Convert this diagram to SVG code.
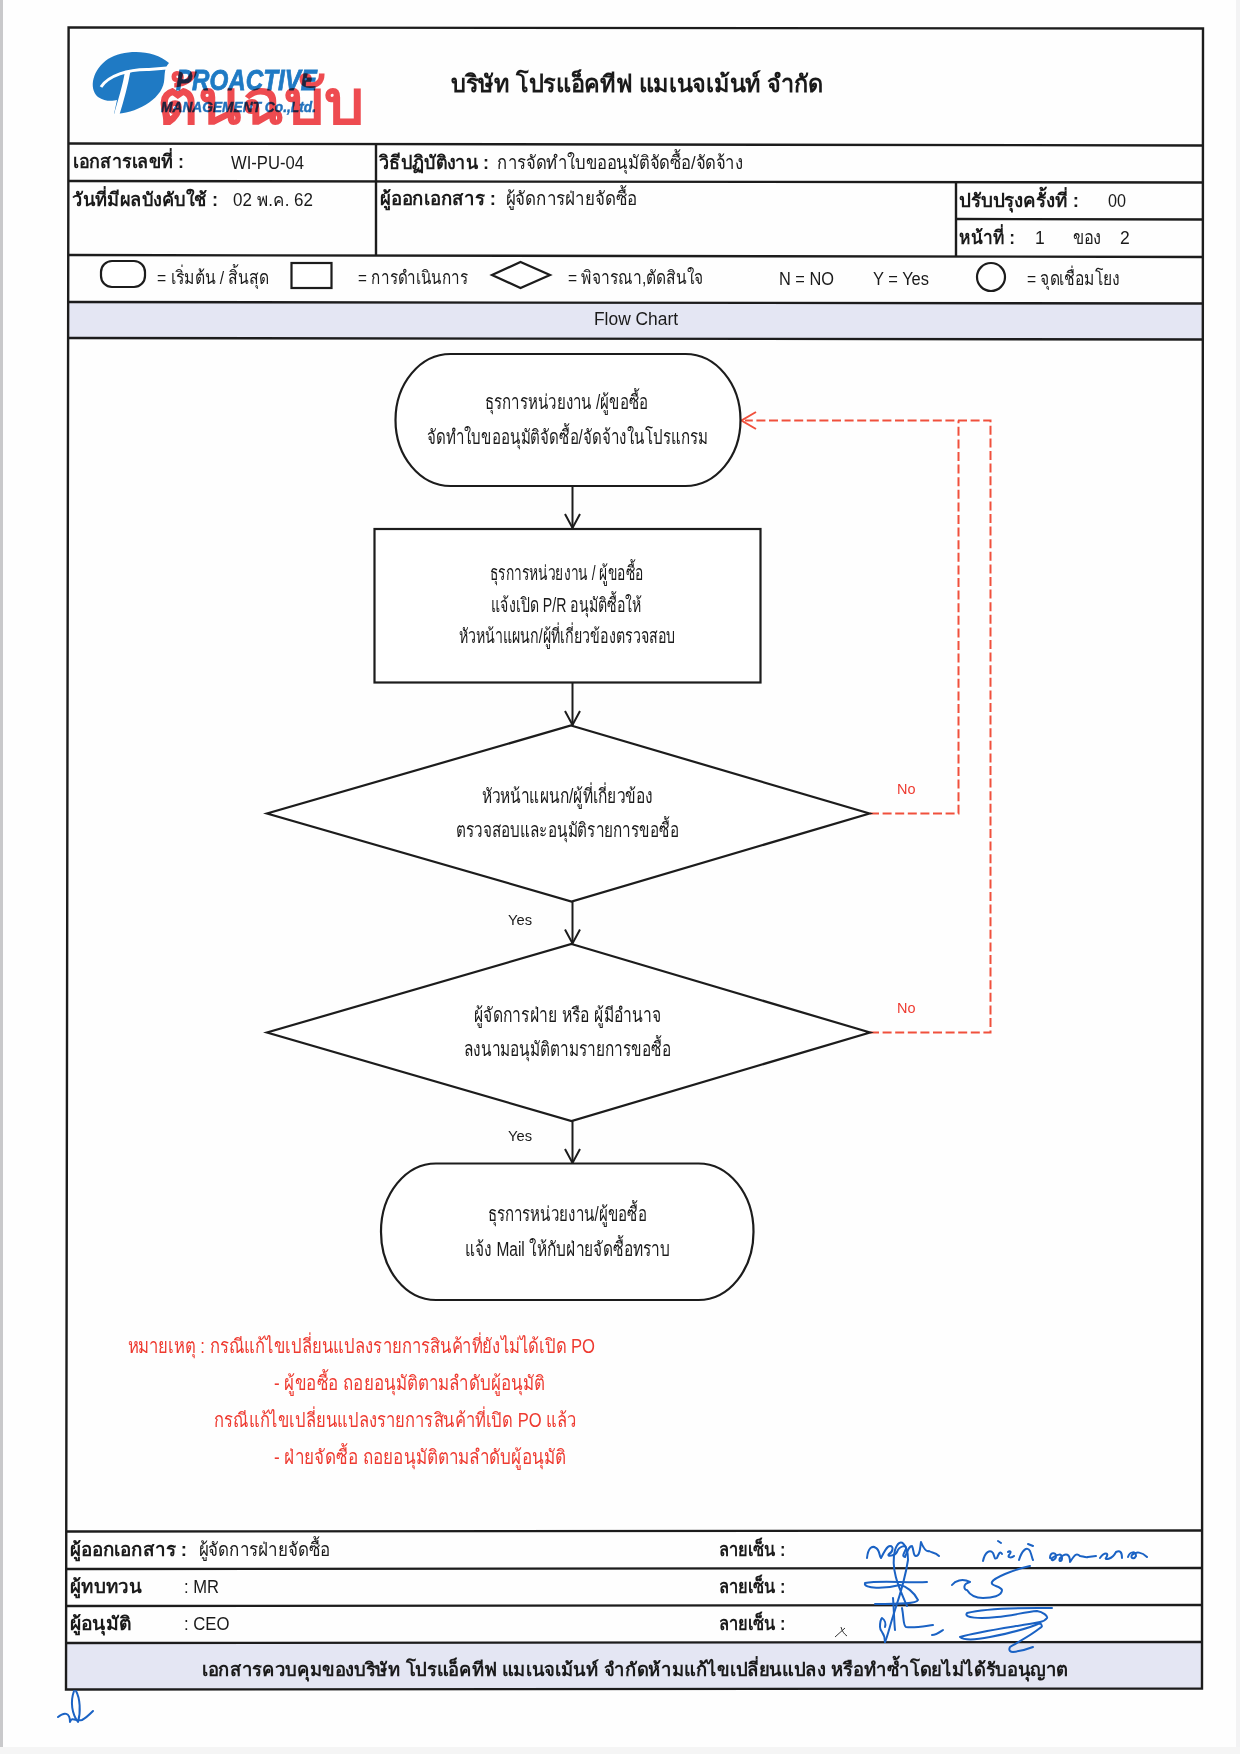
<svg xmlns="http://www.w3.org/2000/svg" width="1240" height="1754" viewBox="0 0 1240 1754">
<style>
text{font-family:"Liberation Sans","Noto Sans",sans-serif;font-size:19px;fill:#1a1a1a}
.b{font-weight:700}
.f{font-size:17.5px}
.r{fill:#ee3a30}
.s14{font-size:14px}
.n{font-size:20px}
.ln{stroke:#1c1c1c;stroke-width:2.4;fill:none}
.sh{stroke:#1c1c1c;stroke-width:2.2;fill:#fff}
.c{stroke:#1c1c1c;stroke-width:2;fill:none;marker-end:url(#ah)}
.d{stroke:#f0503c;stroke-width:2;fill:none;stroke-dasharray:9 3.6}
.sig{stroke:#1a62c4;stroke-width:2;fill:none;stroke-linecap:round;stroke-linejoin:round}
</style>
<defs>
<marker id="ah" markerUnits="userSpaceOnUse" markerWidth="18" markerHeight="18" refX="15" refY="9" orient="auto"><path d="M1,1.5 L15,9 L1,16.5" fill="none" stroke="#1c1c1c" stroke-width="2"/></marker>
</defs>
<rect width="1240" height="1754" fill="#fefefe"/>
<rect x="0" y="0" width="3" height="1754" fill="#c9c9cb"/>
<rect x="1236" y="0" width="4" height="1754" fill="#f3f3f4"/>
<rect x="0" y="1747" width="1240" height="7" fill="#f5f5f5"/>

<g id="form-frame">
<path d="M69,302 L1203,304 L1203,339 L69,338 Z" fill="#e4e6f3"/>
<path d="M66,1643 L1202,1642 L1202,1688 L66,1689 Z" fill="#e4e6f3"/>
<path class="ln" d="M68.6,27.500 L1203,28.500 L1202,1688.500 L66,1689.500 Z"/>
<path class="ln" d="M69,143.500 L1203,145.500 M69,181 L1203,182.500 M956,219 L1203,219.500 M69,255 L1203,257 M69,302 L1203,303.500 M69,338 L1203,339.500 M67,1531.500 L1202,1530.500 M67,1569 L1202,1568 M66.500,1606 L1202,1605 M66,1643 L1202,1642"/>
<path class="ln" d="M376,143.500 V255 M956,182 V257"/>
</g>

<g id="logo">
<path d="M169,63 C154,49 124,49 108,59 C93,69 88,88 98,97 C105,102 113,101 117,100 L114,114 C135,114 161,100 164,82 C165,74 164,68 169,63 Z" fill="#1f7ac4"/>
<path d="M101,87 C108,76 128,69 149,69.500 L167,68" fill="none" stroke="#fff" stroke-width="3"/>
<path d="M125,71 L130.500,71 C128,85 124,100 119.500,114.500 L114,114.500 C118,100 123,85 125,71 Z" fill="#fff"/>
<text x="176" y="90" class="b" style="fill:#1f7ac4;stroke:#1f7ac4;stroke-width:.8;font-size:30px;font-style:italic" textLength="141" lengthAdjust="spacingAndGlyphs">PROACTIVE</text>
<text x="161" y="112" class="b" style="fill:#2272bd;stroke:#2272bd;stroke-width:.4;font-size:14px;font-style:italic" textLength="155" lengthAdjust="spacingAndGlyphs">MANAGEMENT Co.,Ltd.</text>
<text x="157" y="124" class="b" style="fill:#ef4b50;font-size:62px;mix-blend-mode:multiply" textLength="207" lengthAdjust="spacingAndGlyphs">ต้นฉบับ</text>
</g>

<g id="header-text">
<text x="451" y="92" class="b" style="font-size:24px" textLength="373" lengthAdjust="spacingAndGlyphs">บริษัท โปรแอ็คทีฟ แมเนจเม้นท์ จำกัด</text>
<text x="73" y="168" class="b" textLength="111" lengthAdjust="spacingAndGlyphs">เอกสารเลขที่ :</text>
<text x="231" y="168.500" class="f" textLength="73" lengthAdjust="spacingAndGlyphs">WI-PU-04</text>
<text x="379" y="169" class="b" textLength="110" lengthAdjust="spacingAndGlyphs">วิธีปฏิบัติงาน :</text>
<text x="497" y="169" textLength="246" lengthAdjust="spacingAndGlyphs">การจัดทำใบขออนุมัติจัดซื้อ/จัดจ้าง</text>
<text x="72" y="206" class="b" textLength="146" lengthAdjust="spacingAndGlyphs">วันที่มีผลบังคับใช้ :</text>
<text x="233" y="206" class="f" textLength="80" lengthAdjust="spacingAndGlyphs">02 พ.ค. 62</text>
<text x="380" y="205" class="b" textLength="116" lengthAdjust="spacingAndGlyphs">ผู้ออกเอกสาร :</text>
<text x="505.500" y="205" textLength="131.500" lengthAdjust="spacingAndGlyphs">ผู้จัดการฝ่ายจัดซื้อ</text>
<text x="959" y="207" class="b" textLength="120" lengthAdjust="spacingAndGlyphs">ปรับปรุงครั้งที่ :</text>
<text x="1108" y="207" class="f" textLength="18" lengthAdjust="spacingAndGlyphs">00</text>
<text x="959" y="244" class="b" textLength="56" lengthAdjust="spacingAndGlyphs">หน้าที่ :</text>
<text x="1035" y="244" class="f">1</text>
<text x="1072.500" y="244" textLength="28.500" lengthAdjust="spacingAndGlyphs">ของ</text>
<text x="1120" y="244" class="f">2</text>
</g>

<g id="legend">
<rect class="sh" x="101" y="261" width="44" height="26" rx="11" ry="11"/>
<text x="157" y="283.500" textLength="112" lengthAdjust="spacingAndGlyphs">= เริ่มต้น / สิ้นสุด</text>
<rect class="sh" x="291.500" y="263" width="40" height="25"/>
<text x="358" y="283.500" textLength="110" lengthAdjust="spacingAndGlyphs">= การดำเนินการ</text>
<path class="sh" d="M492,275 L520.500,262 L550,275 L520.500,288 Z"/>
<text x="568" y="283.500" textLength="135" lengthAdjust="spacingAndGlyphs">= พิจารณา,ตัดสินใจ</text>
<text x="779" y="284.500" class="f" textLength="55" lengthAdjust="spacingAndGlyphs">N = NO</text>
<text x="873" y="284.500" class="f" textLength="56" lengthAdjust="spacingAndGlyphs">Y = Yes</text>
<circle class="sh" cx="991" cy="277" r="14"/>
<text x="1027" y="284.500" textLength="92.500" lengthAdjust="spacingAndGlyphs">= จุดเชื่อมโยง</text>
</g>

<g id="flow-title"><text x="594" y="325" class="f" textLength="84" lengthAdjust="spacingAndGlyphs">Flow Chart</text></g>

<g id="connectors">
<path class="c" d="M572.500,486 V528"/>
<path class="c" d="M572.500,682.500 V725"/>
<path class="c" d="M572.500,901 V943.500"/>
<path class="c" d="M572.500,1120 V1163"/>
<path class="d" d="M870,813.500 H958.500 V420.500"/>
<path class="d" d="M870,1032.500 H990.500 V420.500 H745"/>
<path d="M756,412 L741.500,420.500 L756,429" fill="none" stroke="#f0503c" stroke-width="2"/>
</g>

<g id="n1-start">
<rect class="sh" x="395.500" y="354" width="345" height="132" rx="55" ry="66"/>
<text x="485" y="409" class="n" textLength="163.500" lengthAdjust="spacingAndGlyphs">ธุรการหน่วยงาน /ผู้ขอซื้อ</text>
<text x="427" y="443.500" class="n" textLength="281" lengthAdjust="spacingAndGlyphs">จัดทำใบขออนุมัติจัดซื้อ/จัดจ้างในโปรแกรม</text>
</g>
<g id="n2-process">
<rect class="sh" x="374.500" y="529" width="386" height="153.500"/>
<text x="490" y="580" class="n" textLength="153.500" lengthAdjust="spacingAndGlyphs">ธุรการหน่วยงาน / ผู้ขอซื้อ</text>
<text x="491" y="611.500" class="n" textLength="150.500" lengthAdjust="spacingAndGlyphs">แจ้งเปิด P/R อนุมัติซื้อให้</text>
<text x="458.500" y="643" class="n" textLength="217" lengthAdjust="spacingAndGlyphs">หัวหน้าแผนก/ผู้ที่เกี่ยวข้องตรวจสอบ</text>
</g>
<g id="n3-decision">
<path class="sh" d="M571,725.500 L869.500,813.500 L571.500,901.500 L267,813.500 Z"/>
<text x="481.500" y="803" class="n" textLength="171.500" lengthAdjust="spacingAndGlyphs">หัวหน้าแผนก/ผู้ที่เกี่ยวข้อง</text>
<text x="456" y="837" class="n" textLength="223" lengthAdjust="spacingAndGlyphs">ตรวจสอบและอนุมัติรายการขอซื้อ</text>
</g>
<g id="n4-decision">
<path class="sh" d="M571.500,944 L870,1032.500 L571.500,1121 L267,1032.500 Z"/>
<text x="474" y="1021.500" class="n" textLength="187" lengthAdjust="spacingAndGlyphs">ผู้จัดการฝ่าย หรือ ผู้มีอำนาจ</text>
<text x="464" y="1055.500" class="n" textLength="207" lengthAdjust="spacingAndGlyphs">ลงนามอนุมัติตามรายการขอซื้อ</text>
</g>
<g id="n5-end">
<rect class="sh" x="381" y="1163.500" width="372.500" height="136.500" rx="55" ry="68"/>
<text x="487.500" y="1221" class="n" textLength="159.500" lengthAdjust="spacingAndGlyphs">ธุรการหน่วยงาน/ผู้ขอซื้อ</text>
<text x="465" y="1255.500" class="n" textLength="205" lengthAdjust="spacingAndGlyphs">แจ้ง Mail ให้กับฝ่ายจัดซื้อทราบ</text>
</g>

<g id="connector-labels">
<text x="897" y="794" class="r s14" textLength="18.500" lengthAdjust="spacingAndGlyphs">No</text>
<text x="897" y="1013" class="r s14" textLength="18.500" lengthAdjust="spacingAndGlyphs">No</text>
<text x="508" y="925" class="s14" textLength="24" lengthAdjust="spacingAndGlyphs">Yes</text>
<text x="508" y="1141" class="s14" textLength="24" lengthAdjust="spacingAndGlyphs">Yes</text>
</g>

<g id="notes">
<text x="127.500" y="1352.500" class="r n" textLength="467.500" lengthAdjust="spacingAndGlyphs">หมายเหตุ : กรณีแก้ไขเปลี่ยนแปลงรายการสินค้าที่ยังไม่ได้เปิด PO</text>
<text x="274" y="1389.500" class="r n" textLength="271" lengthAdjust="spacingAndGlyphs">- ผู้ขอซื้อ ถอยอนุมัติตามลำดับผู้อนุมัติ</text>
<text x="214" y="1426.500" class="r n" textLength="362" lengthAdjust="spacingAndGlyphs">กรณีแก้ไขเปลี่ยนแปลงรายการสินค้าที่เปิด PO แล้ว</text>
<text x="274" y="1463.500" class="r n" textLength="292" lengthAdjust="spacingAndGlyphs">- ฝ่ายจัดซื้อ ถอยอนุมัติตามลำดับผู้อนุมัติ</text>
</g>

<g id="footer">
<text x="70" y="1556" class="b" textLength="117" lengthAdjust="spacingAndGlyphs">ผู้ออกเอกสาร :</text>
<text x="198.500" y="1556" textLength="131.500" lengthAdjust="spacingAndGlyphs">ผู้จัดการฝ่ายจัดซื้อ</text>
<text x="70" y="1593" class="b" textLength="72" lengthAdjust="spacingAndGlyphs">ผู้ทบทวน</text>
<text x="184" y="1593" class="f" textLength="35" lengthAdjust="spacingAndGlyphs">: MR</text>
<text x="70" y="1630" class="b" textLength="61" lengthAdjust="spacingAndGlyphs">ผู้อนุมัติ</text>
<text x="184" y="1630" class="f" textLength="45.500" lengthAdjust="spacingAndGlyphs">: CEO</text>
<text x="718.500" y="1555.500" class="b" textLength="67" lengthAdjust="spacingAndGlyphs">ลายเซ็น :</text>
<text x="718.500" y="1592.500" class="b" textLength="67" lengthAdjust="spacingAndGlyphs">ลายเซ็น :</text>
<text x="718.500" y="1629.500" class="b" textLength="67" lengthAdjust="spacingAndGlyphs">ลายเซ็น :</text>
<text x="202" y="1675.500" class="b" textLength="866" lengthAdjust="spacingAndGlyphs">เอกสารควบคุมของบริษัท โปรแอ็คทีฟ แมเนจเม้นท์ จำกัดห้ามแก้ไขเปลี่ยนแปลง หรือทำซ้ำโดยไม่ได้รับอนุญาต</text>
</g>

<g id="signatures">
<path class="sig" d="M867,1558 C868,1548 872,1545 876,1548 C880,1550 879,1556 881,1558 C884,1552 887,1546 890,1546 C894,1546 893,1552 889,1554 C886,1557 895,1556 897,1552 C899,1546 907,1544 906,1549 C903,1555 902,1556 905,1557 C908,1550 909,1546 912,1546 C914,1550 913,1556 916,1556 C920,1556 920,1548 921,1542 C923,1547 926,1552 929,1551 C932,1553 935,1552 939,1556"/>
<path class="sig" d="M983,1561 C985,1552 990,1549 993,1553 C995,1557 994,1560 997,1558 C999,1553 1000,1551 1002,1554 M998,1541 l3,2 M1008,1552 C1010,1550 1012,1552 1009,1555 C1007,1558 1012,1558 1014,1556 M1019,1560 C1022,1550 1027,1546 1030,1551 C1032,1556 1032,1558 1033,1560 M1028,1544 l5,2 M1050,1558 C1050,1552 1056,1552 1056,1556 C1056,1560 1050,1562 1052,1558 C1058,1554 1062,1553 1062,1558 C1062,1562 1058,1562 1060,1558 C1066,1552 1070,1554 1070,1562 C1074,1556 1076,1552 1080,1556 C1082,1556 1086,1558 1088,1557 L1096,1556 M1100,1558 C1104,1552 1110,1552 1106,1558 C1104,1560 1112,1560 1116,1552 C1120,1550 1122,1552 1122,1558 M1128,1557 C1130,1551 1136,1551 1136,1556 C1134,1560 1130,1558 1132,1555 C1136,1551 1142,1552 1147,1557"/>
<path class="sig" d="M908,1560 C908,1545 900,1535 895,1550 C890,1570 900,1590 907,1606 M908,1560 C905,1580 900,1595 895,1610 C890,1625 888,1635 885,1642"/>
<path class="sig" d="M927,1582 C905,1583 880,1580 865,1583 C863,1589 885,1589 900,1585 C906,1586 914,1592 918,1600 C917,1604 895,1604 875,1604"/>
<path class="sig" d="M952,1585 C955,1581 962,1578 970,1582 C962,1584 964,1590 967,1590 C970,1595 975,1598 983,1598 C992,1598 1002,1596 1002,1590 C1001,1586 990,1586 992,1582 C994,1578 1012,1570 1030,1566"/>
<path class="sig" d="M885,1642 C885,1632 880,1632 880,1627 C880,1620 882,1618 882,1618 C885,1620 886,1624 885,1627 M893,1598 C894,1610 894,1620 895,1630 M902,1608 C904,1618 903,1626 906,1627 C915,1628 925,1626 933,1625 M932,1635 C936,1635 940,1632 943,1630"/>
<path class="sig" d="M1052,1608 C1030,1608 990,1607 967,1613 C963,1618 980,1619 997,1617 C1010,1616 1025,1612 1037,1611 C1043,1612 1048,1616 1047,1618 C1045,1621 1040,1622 1040,1622 C1020,1626 980,1631 960,1637 C965,1641 980,1639 990,1637 C1010,1633 1030,1628 1040,1623 C1043,1626 1042,1627 1040,1628 C1030,1636 1018,1642 1010,1647 C1008,1651 1011,1652 1013,1652 C1020,1651 1028,1649 1033,1647"/>
<path d="M835,1637 L845,1628 M841,1627 C842,1631 844,1634 847,1636" stroke="#333" stroke-width="1" fill="none"/>
<path class="sig" d="M74,1691 C70,1702 72,1714 78,1722 C81,1712 80,1698 76,1691 M58,1717 C64,1712 70,1712 70,1722 C72,1716 76,1722 82,1720 C86,1718 90,1714 93,1711"/>
</g>
</svg>
